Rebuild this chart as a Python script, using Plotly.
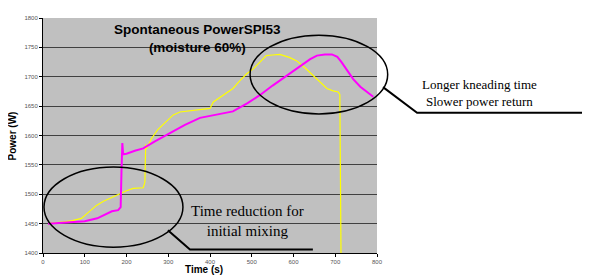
import plotly.graph_objects as go

# ---- data ----
time_magenta = [12, 40, 70, 100, 130, 150, 165, 180, 186, 188, 190, 192, 200, 220, 240, 268, 300, 340,
                376, 420, 455, 490, 520, 550, 580, 615, 640, 656, 675, 692, 705, 715, 730, 743, 760, 775, 791]
power_magenta = [1450, 1451, 1452, 1454, 1459, 1466, 1471, 1473, 1478, 1540, 1587, 1568, 1569, 1574, 1578,
                 1590, 1603, 1618, 1630, 1636, 1641, 1655, 1669, 1685, 1700, 1719, 1730, 1736, 1738, 1738,
                 1734, 1725, 1710, 1696, 1683, 1675, 1666]

time_yellow = [12, 30, 50, 70, 92, 110, 128, 145, 160, 175, 188, 200, 216, 230, 240, 244, 246, 248, 252,
               260, 275, 296, 312, 328, 350, 376, 400, 408, 430, 455, 470, 488, 503, 520, 535, 550, 567,
               590, 608, 628, 647, 665, 680, 695, 707, 711, 712, 714]
power_yellow = [1450, 1451, 1453, 1455, 1459, 1470, 1481, 1488, 1493, 1497, 1501, 1506, 1510, 1510, 1511,
                1520, 1585, 1578, 1583, 1595, 1610, 1624, 1635, 1640, 1642, 1645, 1646, 1657, 1668, 1680,
                1692, 1705, 1713, 1725, 1736, 1737, 1738, 1733, 1727, 1715, 1702, 1690, 1680, 1676, 1674,
                1670, 1600, 1380]

x_ticks = [0, 100, 200, 300, 400, 500, 600, 700, 800]
y_ticks = [1400, 1450, 1500, 1550, 1600, 1650, 1700, 1750, 1800]

title_text = "Spontaneous PowerSPI53<br>(moisture 60%)"
note_left = "Time reduction for<br>initial mixing"
note_right = "Longer kneading time<br>Slower power return"

fig = go.Figure()
fig.add_trace(go.Scatter(x=time_yellow, y=power_yellow, mode="lines",
                         line=dict(color="#ffff00", width=1.2), showlegend=False))
fig.add_trace(go.Scatter(x=time_magenta, y=power_magenta, mode="lines",
                         line=dict(color="#ff00ff", width=2), showlegend=False))

sans = "Liberation Sans, Arial, sans-serif"
serif = "Liberation Serif, Times New Roman, serif"

# the page body adds an 8px margin, so the figure is 8px smaller each way
fig.update_layout(
    width=582, height=269,
    margin=dict(l=35, r=213, t=7, b=24),
    paper_bgcolor="white",
    plot_bgcolor="#c0c0c0",
    showlegend=False,
    xaxis=dict(range=[0, 800], tickvals=x_ticks, ticktext=[str(v) for v in x_ticks],
               showgrid=False, zeroline=False, showline=True, linecolor="#000000", linewidth=1,
               ticks="outside", ticklen=3, tickcolor="#000000",
               tickfont=dict(family=sans, size=6, color="#555555")),
    yaxis=dict(range=[1400, 1800], tickvals=y_ticks, ticktext=[str(v) for v in y_ticks],
               showgrid=True, gridcolor="#404040", gridwidth=1, zeroline=False,
               showline=True, linecolor="#000000", linewidth=1,
               ticks="outside", ticklen=3, tickcolor="#000000",
               tickfont=dict(family=sans, size=6, color="#555555")),
)

# ellipses and leader lines (paper coordinates)
fig.add_shape(type="circle", xref="paper", yref="paper", x0=0.003, x1=0.419, y0=0.025, y1=0.366,
              line=dict(color="black", width=1.5))
fig.add_shape(type="circle", xref="paper", yref="paper", x0=0.620, x1=1.032, y0=0.592, y1=0.927,
              line=dict(color="black", width=1.5))
fig.add_shape(type="path", xref="paper", yref="paper",
              path="M 0.374 0.0966 L 0.440 0.0147 L 0.808 0.0147",
              line=dict(color="black", width=2))
fig.add_shape(type="path", xref="paper", yref="paper",
              path="M 1.018 0.706 L 1.120 0.597 L 1.638 0.597",
              line=dict(color="black", width=2))

fig.add_annotation(x=369, y=1765, xref="x", yref="y", text="<b>" + title_text + "</b>",
                   xanchor="center", yanchor="middle",
                   showarrow=False, font=dict(family=sans, size=13.5, color="black"))
fig.add_annotation(x=491, y=1454, xref="x", yref="y", text=note_left, showarrow=False,
                   xanchor="center", yanchor="middle",
                   font=dict(family=serif, size=15, color="black"))
fig.add_annotation(x=1.308, y=0.681, xref="paper", yref="paper", text=note_right, showarrow=False,
                   xanchor="center", yanchor="middle",
                   font=dict(family=serif, size=13, color="black"))
fig.add_annotation(x=-0.09, y=0.5, xref="paper", yref="paper", text="<b>Power (W)</b>", textangle=-90,
                   xanchor="center", yanchor="middle",
                   showarrow=False, font=dict(family=sans, size=10, color="black"))
fig.add_annotation(x=0.482, y=-0.071, xref="paper", yref="paper", text="<b>Time (s)</b>",
                   xanchor="center", yanchor="middle",
                   showarrow=False, font=dict(family=sans, size=10, color="black"))

fig.write_html("out.html")
